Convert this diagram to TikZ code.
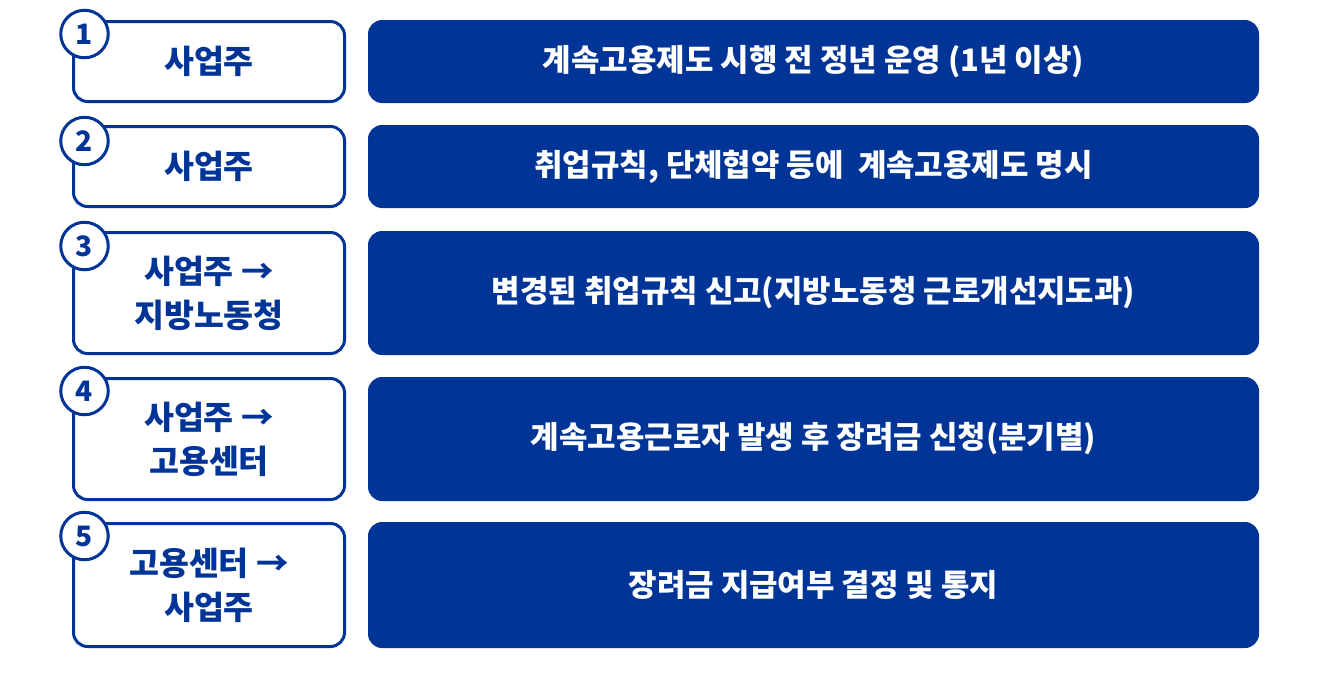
\documentclass[tikz,border=0pt]{standalone}
\usepackage{fontspec}
\newfontfamily\krfont{Noto Sans CJK KR}
\definecolor{KRBLUE}{HTML}{003597}
\usetikzlibrary{positioning}

\begin{document}
\begin{tikzpicture}[
  %% Actor boxes — white with blue outline
  abox/.style={
    draw=KRBLUE, fill=white, rectangle, rounded corners=8pt, line width=0.06cm,
    minimum width=5.42cm, align=center, text=KRBLUE,
    font=\krfont\bfseries\fontsize{18.5pt}{25pt}\selectfont, inner sep=2pt
  },
  %% Task boxes — solid blue bars
  tbox/.style={
    draw=none, fill=KRBLUE, rectangle, rounded corners=8pt,
    minimum width=17.82cm, align=center, text=white,
    font=\krfont\bfseries\fontsize{17.6pt}{21pt}\selectfont, inner sep=2pt
  },
  %% Step number badges
  nbadge/.style={
    draw=KRBLUE, fill=white, circle, line width=0.06cm,
    minimum size=0.95cm, inner sep=0pt, text=KRBLUE,
    font=\krfont\bfseries\fontsize{16pt}{17pt}\selectfont
  }
]
\useasboundingbox (0,0) rectangle (26.4,-13.44);

%% ── Step 1 ───────────────────────────────────────────────────
\node[abox, minimum height=1.60cm] (actor1) at (4.18, -1.23) {사업주};
\node[tbox, minimum height=1.66cm] (task1) at (16.27, -1.23)
  {계속고용제도 시행 전 정년 운영 (1년 이상)};
\node[nbadge] (num1) at (1.69, -0.68) {1};

%% ── Step 2 ───────────────────────────────────────────────────
\node[abox, minimum height=1.60cm] (actor2) at (4.18, -3.33) {사업주};
\node[tbox, minimum height=1.66cm] (task2) at (16.27, -3.33)
  {취업규칙, 단체협약 등에~ 계속고용제도 명시};
\node[nbadge] (num2) at (1.69, -2.82) {2};

%% ── Step 3 ───────────────────────────────────────────────────
\node[abox, minimum height=2.42cm] (actor3) at (4.18, -5.86)
  {사업주 →\\지방노동청};
\node[tbox, minimum height=2.48cm] (task3) at (16.27, -5.86)
  {변경된 취업규칙 신고(지방노동청 근로개선지도과)};
\node[nbadge] (num3) at (1.69, -4.92) {3};

%% ── Step 4 ───────────────────────────────────────────────────
\node[abox, minimum height=2.42cm] (actor4) at (4.18, -8.78)
  {사업주 →\\고용센터};
\node[tbox, minimum height=2.48cm] (task4) at (16.27, -8.78)
  {계속고용근로자 발생 후 장려금 신청(분기별)};
\node[nbadge] (num4) at (1.69, -7.82) {4};

%% ── Step 5 ───────────────────────────────────────────────────
\node[abox, minimum height=2.46cm] (actor5) at (4.18, -11.70)
  {고용센터 →\\사업주};
\node[tbox, minimum height=2.52cm] (task5) at (16.27, -11.70)
  {장려금 지급여부 결정 및 통지};
\node[nbadge] (num5) at (1.69, -10.72) {5};

\end{tikzpicture}
\end{document}
